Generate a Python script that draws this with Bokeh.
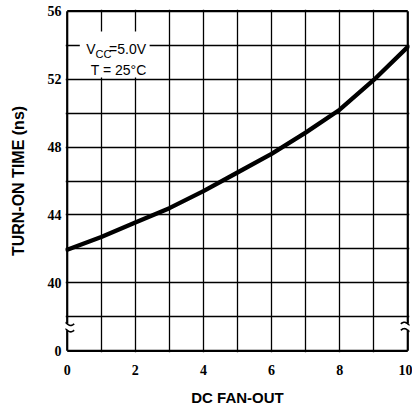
import numpy as np
from bokeh.plotting import figure
from bokeh.models import FixedTicker, Label, BoxAnnotation, Range1d
from bokeh.embed import file_html
from bokeh.resources import INLINE

# ---- data ----
fanout = [0, 1, 2, 3, 4, 5, 6, 7, 8, 9, 10]
turn_on_ns = [41.95, 42.7, 43.55, 44.4, 45.4, 46.5, 47.6, 48.85, 50.2, 51.95, 53.9]

x_ticks = [0, 2, 4, 6, 8, 10]
x_grid = [1, 2, 3, 4, 5, 6, 7, 8, 9]
y_ticks = [36, 40, 44, 48, 52, 56]          # 36 = broken-axis position labelled "0"
y_tick_labels = {36: "0", 40: "40", 44: "44", 48: "48", 52: "52", 56: "56"}
y_grid = [38, 40, 42, 44, 46, 48, 50, 52, 54]
x_min, x_max = 0, 10
y_min, y_max = 36, 56
break_y = 37.4

FW, FH = 344, 343
xr = Range1d(x_min - 0.05, x_max + 0.05)
yr = Range1d(y_min - 0.1, y_max + 0.1)
px_x = (xr.end - xr.start) / FW
px_y = (yr.end - yr.start) / FH

p = figure(frame_width=FW, frame_height=FH, x_range=xr, y_range=yr,
           output_backend="svg", toolbar_location=None,
           min_border_left=65, min_border_right=3, min_border_top=9, min_border_bottom=10)
p.outline_line_color = None
p.background_fill_color = "white"

# grid
p.xgrid.ticker = FixedTicker(ticks=x_grid)
p.ygrid.ticker = FixedTicker(ticks=y_grid)
for g in (p.xgrid, p.ygrid):
    g.grid_line_color = "black"
    g.grid_line_width = 1.3
    g.grid_line_alpha = 1.0

# axes
for ax in (p.xaxis, p.yaxis):
    ax.axis_line_color = None
    ax.major_tick_in = 0
    ax.major_tick_out = 0
    ax.minor_tick_line_color = None
    ax.major_label_text_font = "Liberation Sans Narrow"
    ax.major_label_text_font_style = "bold"
    ax.major_label_text_font_size = "14px"
    ax.major_label_text_color = "black"
    ax.axis_label_text_font = "Liberation Sans"
    ax.axis_label_text_font_style = "bold"
    ax.axis_label_text_color = "black"

p.xaxis.ticker = FixedTicker(ticks=x_ticks)
p.xaxis.major_label_standoff = 12
p.xaxis.axis_label = "DC FAN-OUT"
p.xaxis.axis_label_text_font_size = "15px"
p.xaxis.axis_label_standoff = 11

p.yaxis.ticker = FixedTicker(ticks=y_ticks)
p.yaxis.major_label_overrides = y_tick_labels
p.yaxis.major_label_standoff = 4
p.yaxis.axis_label = "TURN-ON TIME (ns)"
p.yaxis.axis_label_text_font_size = "16px"
p.yaxis.axis_label_standoff = 18

# frame borders
p.segment(x0=[x_min, x_max, x_min, x_min], y0=[y_min, y_min, y_min, y_max],
          x1=[x_min, x_max, x_max, x_max], y1=[y_max, y_max, y_min, y_max],
          line_color="black", line_width=2.2)

# axis breaks
p.rect(x=[x_min, x_max], y=[break_y, break_y], width=14, height=7,
       width_units="screen", height_units="screen",
       fill_color="white", line_color=None)
t = np.linspace(-1, 1, 25)
for xc in (x_min, x_max):
    for off in (3.2, -3.2):
        p.line(xc + t * 7 * px_x, break_y + (off - 1.6 * np.sin(np.pi * t)) * px_y,
               line_color="black", line_width=1.6)

# curve
p.line(fanout, turn_on_ns, line_color="black", line_width=4.3,
       line_cap="round", line_join="round")

# annotation box and text
p.add_layout(BoxAnnotation(left=0.37, right=2.42, bottom=52.1, top=54.8,
                           fill_color="white", fill_alpha=1.0, line_color=None))
font = "Liberation Sans"
p.add_layout(Label(x=0.56, y=53.8, text="V", text_baseline="alphabetic",
                   text_font=font, text_font_size="14px", text_color="black"))
p.add_layout(Label(x=0.83, y=53.5, text="CC", text_baseline="alphabetic",
                   text_font=font, text_font_size="11px", text_color="black"))
p.add_layout(Label(x=1.23, y=53.8, text="=5.0V", text_baseline="alphabetic",
                   text_font=font, text_font_size="14px", text_color="black"))
p.add_layout(Label(x=0.69, y=52.55, text="T = 25°C", text_baseline="alphabetic",
                   text_font=font, text_font_size="14px", text_color="black"))

open("out.html", "w").write(file_html(p, INLINE))
